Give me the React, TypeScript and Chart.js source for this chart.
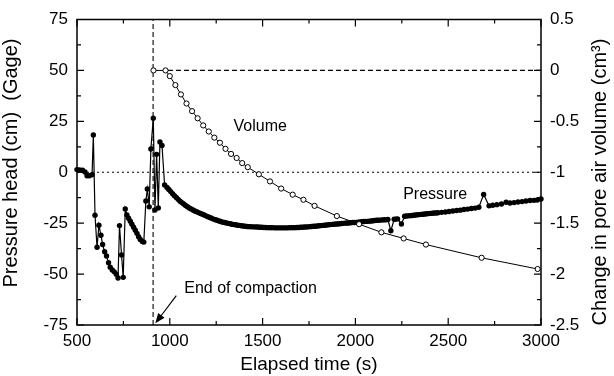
import React, { useEffect, useRef } from 'react';
import { Chart, registerables } from 'chart.js';

Chart.register(...registerables);

// Pressure head (cm, gage) vs elapsed time (s)
const pressureTime = [
  500, 514, 530, 543, 554, 566, 581, 588, 597, 608, 618, 629, 638, 649, 659, 670, 679, 690, 701, 712,
  721, 729, 740, 749, 760, 769, 778, 787, 796, 805, 814, 823, 832, 841, 852, 860, 871, 879, 889, 898,
  911, 920, 929, 938, 947, 958, 972,
  985, 995, 1005, 1015, 1025, 1035, 1045, 1055, 1065, 1075, 1085, 1095, 1105, 1115, 1125, 1135, 1145, 1155,
  1165, 1175, 1185, 1195, 1205, 1215, 1225, 1235, 1245, 1255, 1265, 1275, 1285, 1295, 1305, 1315, 1325, 1335,
  1345, 1355, 1365, 1375, 1385, 1395, 1405, 1415, 1425, 1435, 1445, 1455, 1465, 1475, 1485, 1495, 1505, 1515,
  1525, 1535, 1545, 1555, 1565, 1575, 1585, 1595, 1605, 1615, 1625, 1635, 1645, 1655, 1665, 1675, 1685, 1695,
  1705, 1715, 1725, 1735, 1745, 1755, 1765, 1775, 1785, 1795, 1805, 1815, 1825, 1835, 1845, 1855, 1865, 1875,
  1885, 1895, 1905, 1915, 1925, 1935, 1945, 1955, 1965, 1975, 1985, 1995, 2005, 2015, 2025, 2035, 2045, 2055,
  2065, 2075, 2085, 2095, 2105, 2115, 2125, 2135, 2145, 2155, 2165, 2175, 2191, 2209, 2218, 2227, 2248, 2265,
  2275, 2285, 2295, 2305, 2315, 2325, 2335, 2345, 2355, 2365, 2375, 2385, 2395, 2405, 2415, 2425, 2435, 2445,
  2465, 2485, 2505, 2525, 2545, 2565, 2585, 2605, 2625, 2645, 2665,
  2691, 2720, 2740, 2762, 2787, 2812, 2833, 2855, 2876, 2898, 2919, 2941, 2962, 2980, 3000,
];
const pressureHead = [
  1.3, 1.1, 1.0, 0.1, -1.7, -1.7, -1.2, 18.3, -21.1, -36.8, -26.0, -30.9, -35.5, -39.0, -41.1, -44.4, -46.6, -48.0, -48.9, -50.1,
  -51.9, -26.2, -40.6, -51.6, -18.0, -21.0, -22.6, -24.0, -25.5, -27.0, -28.5, -30.0, -31.7, -33.0, -34.0, -34.3, -14.1, -8.2, -17.0, 11.4,
  26.5, -18.5, 8.8, -17.5, 14.9, 13.1, -6.2,
  -7.5, -8.5, -9.5, -10.5, -11.5, -12.4, -13.3, -14.2, -14.9, -15.6, -16.3, -16.9, -17.5, -18.0, -18.5, -19.0, -19.4, -19.8,
  -20.2, -20.6, -21.0, -21.4, -21.8, -22.2, -22.6, -23.0, -23.3, -23.6, -23.9, -24.2, -24.5, -24.7, -24.9, -25.1, -25.3, -25.5,
  -25.7, -25.8, -26.0, -26.1, -26.3, -26.4, -26.5, -26.6, -26.7, -26.7, -26.8, -26.8, -26.9, -26.9, -27.0, -27.0, -27.1, -27.1,
  -27.2, -27.2, -27.2, -27.2, -27.3, -27.3, -27.3, -27.3, -27.3, -27.3, -27.3, -27.3, -27.2, -27.2, -27.2, -27.2, -27.1, -27.1,
  -27.0, -27.0, -26.9, -26.9, -26.8, -26.7, -26.6, -26.5, -26.5, -26.4, -26.3, -26.2, -26.1, -26.0, -25.9, -25.8, -25.7, -25.6,
  -25.5, -25.4, -25.4, -25.3, -25.2, -25.1, -25.0, -24.9, -24.9, -24.8, -24.7, -24.7, -24.6, -24.5, -24.4, -24.3, -24.2, -24.1,
  -24.1, -24.0, -23.9, -23.8, -23.7, -23.6, -23.6, -23.5, -23.4, -23.3, -23.3, -23.2, -28.7, -23.1, -23.0, -22.9, -25.4, -21.6,
  -21.5, -21.4, -21.3, -21.2, -21.1, -21.0, -20.9, -20.8, -20.7, -20.6, -20.5, -20.4, -20.3, -20.2, -20.1, -20.0, -20.0, -19.9,
  -19.7, -19.5, -19.3, -19.0, -18.8, -18.6, -18.3, -18.1, -17.8, -17.6, -17.2,
  -10.9, -16.5, -16.2, -15.9, -15.6, -14.7, -15.1, -14.9, -14.6, -14.4, -14.1, -13.9, -13.8, -13.6, -13.1,
];

// Change in pore air volume (cm^3) vs elapsed time (s)
const volumeTime = [
  912, 977, 1000, 1030, 1060, 1090, 1120, 1150, 1180, 1210, 1240, 1270, 1300, 1330, 1360, 1390, 1420,
  1480, 1540, 1600, 1662, 1720, 1780, 1900, 2020, 2140, 2260, 2380, 2680, 2982,
];
const volumeChange = [
  0, 0, -0.056, -0.144, -0.236, -0.325, -0.4, -0.47, -0.54, -0.6, -0.66, -0.71, -0.77, -0.82, -0.86, -0.91, -0.95,
  -1.02, -1.09, -1.16, -1.22, -1.27, -1.33, -1.43, -1.51, -1.59, -1.65, -1.71, -1.84, -1.95,
];

const endOfCompactionTime = 910;
const pressureRange = [-75, 75];
const volumeRange = [-2.5, 0.5];
const timeRange = [500, 3000];

const FONT = "'Liberation Sans', Arial, sans-serif";

const annotations = {
  volume: { text: 'Volume', x: 1487, y: 22.2 },
  pressure: { text: 'Pressure', x: 2430, y: -11.2 },
  compaction: { text: 'End of compaction', x: 1078, y: -57 },
  arrowFrom: { x: 1035, y: -60.6 },
  arrowTo: { x: 922, y: -74.2 },
};

const fmt = (v: number) => String(Number(v.toFixed(2)));

const framePlugin = {
  id: 'frameAndLabels',
  afterDatasetsDraw(chart: any) {
    const { ctx, chartArea: a, scales } = chart;
    const xs = scales.x, ys = scales.y, y2 = scales.y2;
    ctx.save();
    // annotation texts
    ctx.fillStyle = '#000';
    ctx.font = `16px ${FONT}`;
    ctx.textBaseline = 'middle';
    ctx.textAlign = 'center';
    for (const k of ['volume', 'pressure']) {
      const an = (annotations as any)[k];
      ctx.fillText(an.text, xs.getPixelForValue(an.x), ys.getPixelForValue(an.y));
    }
    ctx.textAlign = 'left';
    const c = annotations.compaction;
    ctx.fillText(c.text, xs.getPixelForValue(c.x), ys.getPixelForValue(c.y));
    // arrow
    const x1 = xs.getPixelForValue(annotations.arrowFrom.x), yA = ys.getPixelForValue(annotations.arrowFrom.y);
    const x2 = xs.getPixelForValue(annotations.arrowTo.x), yB = ys.getPixelForValue(annotations.arrowTo.y);
    const ang = Math.atan2(yB - yA, x2 - x1);
    const hl = 10, hw = 4;
    ctx.strokeStyle = '#000';
    ctx.lineWidth = 1.2;
    ctx.beginPath();
    ctx.moveTo(x1, yA);
    ctx.lineTo(x2 - Math.cos(ang) * hl * 0.8, yB - Math.sin(ang) * hl * 0.8);
    ctx.stroke();
    ctx.beginPath();
    ctx.moveTo(x2, yB);
    ctx.lineTo(x2 - Math.cos(ang) * hl - Math.sin(ang) * hw, yB - Math.sin(ang) * hl + Math.cos(ang) * hw);
    ctx.lineTo(x2 - Math.cos(ang) * hl + Math.sin(ang) * hw, yB - Math.sin(ang) * hl - Math.cos(ang) * hw);
    ctx.closePath();
    ctx.fill();

    // frame
    ctx.lineWidth = 1.5;
    ctx.strokeRect(a.left, a.top, a.right - a.left, a.bottom - a.top);
    ctx.lineWidth = 1.2;
    ctx.beginPath();
    const major = 7, minor = 4;
    for (let v = timeRange[0]; v <= timeRange[1]; v += 250) {
      const px = xs.getPixelForValue(v);
      const len = (v - timeRange[0]) % 500 === 0 ? major : minor;
      ctx.moveTo(px, a.bottom); ctx.lineTo(px, a.bottom - len);
      ctx.moveTo(px, a.top); ctx.lineTo(px, a.top + len);
    }
    for (let v = pressureRange[0]; v <= pressureRange[1]; v += 12.5) {
      const py = ys.getPixelForValue(v);
      const len = (v - pressureRange[0]) % 25 === 0 ? major : minor;
      ctx.moveTo(a.left, py); ctx.lineTo(a.left + len, py);
    }
    for (let i = 0; i <= 12; i++) {
      const v = volumeRange[0] + i * 0.25;
      const py = y2.getPixelForValue(v);
      const len = i % 2 === 0 ? major : minor;
      ctx.moveTo(a.right, py); ctx.lineTo(a.right - len, py);
    }
    ctx.stroke();

    // rotated y titles
    ctx.font = `20px ${FONT}`;
    ctx.textAlign = 'center';
    ctx.textBaseline = 'middle';
    ctx.save();
    ctx.translate(11, 163);
    ctx.rotate(-Math.PI / 2);
    ctx.fillText('Pressure head (cm)  (Gage)', 0, 0);
    ctx.restore();
    ctx.save();
    ctx.translate(600, 182);
    ctx.rotate(-Math.PI / 2);
    ctx.fillText('Change in pore air volume (cm\u00B3)', 0, 0);
    ctx.restore();
    ctx.restore();
  },
};

export default function App() {
  const ref = useRef<HTMLCanvasElement>(null);
  useEffect(() => {
    if (!ref.current) return;
    const pressureData = pressureTime.map((t, i) => ({ x: t, y: pressureHead[i] }));
    const volumeData = volumeTime.map((t, i) => ({ x: t, y: volumeChange[i] }));
    const tickFont = { family: FONT, size: 17 };
    const chart = new Chart(ref.current, {
      type: 'scatter',
      data: {
        datasets: [
          {
            label: 'Volume',
            data: volumeData,
            yAxisID: 'y2',
            showLine: true,
            borderColor: '#000',
            borderWidth: 1,
            pointRadius: 2.6,
            pointBackgroundColor: '#fff',
            pointBorderColor: '#000',
            pointBorderWidth: 1,
            clip: false,
          },
          {
            label: 'Pressure',
            data: pressureData,
            yAxisID: 'y',
            showLine: true,
            borderColor: '#000',
            borderWidth: 1.2,
            pointRadius: 2.7,
            pointBackgroundColor: '#000',
            pointBorderColor: '#000',
            pointBorderWidth: 0,
            clip: false,
          },
          {
            label: 'End of compaction',
            data: [{ x: endOfCompactionTime, y: pressureRange[0] }, { x: endOfCompactionTime, y: pressureRange[1] }],
            yAxisID: 'y',
            showLine: true,
            borderColor: '#000',
            borderWidth: 1.1,
            borderDash: [5, 3],
            pointRadius: 0,
          },
          {
            label: 'Zero pressure',
            data: [{ x: timeRange[0], y: 0 }, { x: timeRange[1], y: 0 }],
            yAxisID: 'y',
            showLine: true,
            borderColor: '#000',
            borderWidth: 1.1,
            borderDash: [2, 3],
            pointRadius: 0,
          },
          {
            label: 'Zero volume',
            data: [{ x: 990, y: 0 }, { x: timeRange[1], y: 0 }],
            yAxisID: 'y2',
            showLine: true,
            borderColor: '#000',
            borderWidth: 1.1,
            borderDash: [5, 3],
            pointRadius: 0,
          },
        ],
      },
      options: {
        responsive: false,
        animation: false,
        devicePixelRatio: 1,
        layout: { padding: { top: 19.5, left: 0, right: 0, bottom: 0 } },
        plugins: { legend: { display: false }, tooltip: { enabled: false } },
        scales: {
          x: {
            type: 'linear',
            min: timeRange[0],
            max: timeRange[1],
            grid: { display: false, drawTicks: false },
            border: { display: false },
            ticks: { stepSize: 500, font: tickFont, color: '#000', padding: 6, maxRotation: 0, callback: (v: any) => fmt(Number(v)) },
            title: { display: true, text: 'Elapsed time (s)', font: { family: FONT, size: 19 }, color: '#000', padding: { top: 0, bottom: 0 } },
            afterFit: (s: any) => { s.height = 51; },
          },
          y: {
            type: 'linear',
            position: 'left',
            min: pressureRange[0],
            max: pressureRange[1],
            grid: { display: false, drawTicks: false },
            border: { display: false },
            ticks: { stepSize: 25, font: tickFont, color: '#000', padding: 9, callback: (v: any) => fmt(Number(v)) },
            afterFit: (s: any) => { s.width = 77; },
          },
          y2: {
            type: 'linear',
            position: 'right',
            min: volumeRange[0],
            max: volumeRange[1],
            grid: { display: false, drawTicks: false },
            border: { display: false },
            ticks: { stepSize: 0.5, font: tickFont, color: '#000', padding: 9, callback: (v: any) => fmt(Number(v)) },
            afterFit: (s: any) => { s.width = 73; },
          },
        },
      },
      plugins: [framePlugin],
    } as any);
    return () => chart.destroy();
  }, []);
  return (
    <div style={{ position: 'fixed', left: 0, top: 0, width: 614, height: 376, background: '#fff' }}>
      <canvas ref={ref} width={614} height={376} style={{ display: 'block' }} />
    </div>
  );
}
